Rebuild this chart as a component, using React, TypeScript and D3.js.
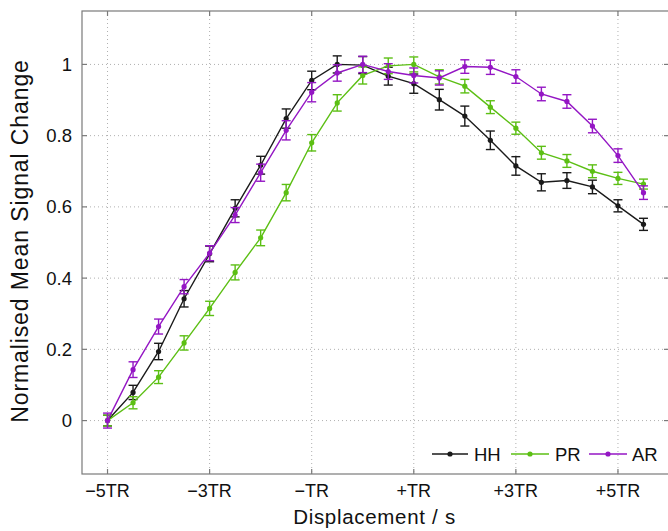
import React from "react";
import * as d3 from "d3";

const displacement = [-5, -4.5, -4, -3.5, -3, -2.5, -2, -1.5, -1, -0.5, 0, 0.5, 1, 1.5, 2, 2.5, 3, 3.5, 4, 4.5, 5, 5.5];
const hhMean = [0, 0.079, 0.194, 0.342, 0.468, 0.596, 0.717, 0.848, 0.955, 1.0, 0.998, 0.967, 0.946, 0.901, 0.855, 0.787, 0.715, 0.669, 0.674, 0.656, 0.603, 0.551];
const hhErr = [0.015, 0.02, 0.023, 0.023, 0.022, 0.024, 0.025, 0.027, 0.026, 0.024, 0.024, 0.025, 0.027, 0.029, 0.028, 0.026, 0.026, 0.024, 0.022, 0.019, 0.017, 0.017];
const prMean = [0, 0.05, 0.122, 0.218, 0.315, 0.416, 0.513, 0.64, 0.78, 0.892, 0.969, 0.996, 1.0, 0.965, 0.939, 0.88, 0.821, 0.752, 0.729, 0.7, 0.68, 0.664];
const prErr = [0.015, 0.017, 0.018, 0.02, 0.02, 0.021, 0.022, 0.023, 0.023, 0.023, 0.024, 0.022, 0.021, 0.02, 0.019, 0.018, 0.017, 0.018, 0.018, 0.018, 0.017, 0.014];
const arMean = [0, 0.143, 0.264, 0.376, 0.47, 0.577, 0.696, 0.815, 0.922, 0.976, 1.0, 0.98, 0.969, 0.962, 0.994, 0.992, 0.966, 0.917, 0.896, 0.827, 0.744, 0.64];
const arErr = [0.021, 0.022, 0.021, 0.02, 0.021, 0.021, 0.024, 0.027, 0.027, 0.023, 0.023, 0.022, 0.021, 0.02, 0.019, 0.02, 0.019, 0.019, 0.019, 0.019, 0.019, 0.019];

const seriesNames = ["HH", "PR", "AR"];
const seriesColors = ["#1a1a1a", "#5cbf14", "#9416c4"];
const xTickValues = [-5, -3, -1, 1, 3, 5];
const xTickLabels = ["\u22125TR", "\u22123TR", "\u2212TR", "+TR", "+3TR", "+5TR"];
const yTickValues = [0, 0.2, 0.4, 0.6, 0.8, 1];
const yTickLabels = ["0", "0.2", "0.4", "0.6", "0.8", "1"];

const W = 668;
const H = 531;
const left = 82;
const right = 669;
const top = 11;
const bottom = 474;
const font = "'Liberation Sans', Arial, Helvetica, sans-serif";

export default function App() {
  const x = d3.scaleLinear().domain([-5.5, 6]).range([left, right]);
  const y = d3.scaleLinear().domain([-0.15, 1.15]).range([bottom, top]);
  const series = [
    { name: seriesNames[0], mean: hhMean, err: hhErr, color: seriesColors[0] },
    { name: seriesNames[1], mean: prMean, err: prErr, color: seriesColors[1] },
    { name: seriesNames[2], mean: arMean, err: arErr, color: seriesColors[2] },
  ];
  const line = d3
    .line<number>()
    .x((_, i) => x(displacement[i]))
    .y((d) => y(d));
  const cap = 4.5;
  const tick = 5;
  const legendItems = [
    { x0: 432, x1: 468, tx: 474 },
    { x0: 511, x1: 549, tx: 555 },
    { x0: 589, x1: 627, tx: 632 },
  ];
  const legendY = 454;

  return (
    <div style={{ position: "absolute", left: 0, top: 0 }}>
      <svg width={W} height={H} style={{ display: "block", background: "#fff" }}>
        <rect x={0} y={0} width={W} height={H} fill="#fff" />
        {/* grid */}
        {xTickValues.map((v) => (
          <line key={"gx" + v} x1={x(v)} x2={x(v)} y1={top} y2={bottom} stroke="#b0b0b0" strokeWidth={1} strokeDasharray="1,3" />
        ))}
        {yTickValues.map((v) => (
          <line key={"gy" + v} x1={left} x2={right} y1={y(v)} y2={y(v)} stroke="#b0b0b0" strokeWidth={1} strokeDasharray="1,3" />
        ))}
        {/* series */}
        {series.map((s) => (
          <g key={s.name}>
            <path d={line(s.mean) || ""} fill="none" stroke={s.color} strokeWidth={1.4} />
            {s.mean.map((m, i) => {
              const cx = x(displacement[i]);
              const y0 = y(m - s.err[i]);
              const y1 = y(m + s.err[i]);
              return (
                <g key={i} stroke={s.color} strokeWidth={1.4}>
                  <line x1={cx} x2={cx} y1={y0} y2={y1} />
                  <line x1={cx - cap} x2={cx + cap} y1={y0} y2={y0} />
                  <line x1={cx - cap} x2={cx + cap} y1={y1} y2={y1} />
                  <circle cx={cx} cy={y(m)} r={2.6} fill={s.color} stroke="none" />
                </g>
              );
            })}
          </g>
        ))}
        {/* axes box */}
        <rect x={left} y={top} width={right - left} height={bottom - top} fill="none" stroke="#7a7a7a" strokeWidth={1.2} />
        {xTickValues.map((v) => (
          <g key={"tx" + v} stroke="#7a7a7a" strokeWidth={1.2}>
            <line x1={x(v)} x2={x(v)} y1={bottom} y2={bottom - tick} />
            <line x1={x(v)} x2={x(v)} y1={top} y2={top + tick} />
          </g>
        ))}
        {yTickValues.map((v) => (
          <g key={"ty" + v} stroke="#7a7a7a" strokeWidth={1.2}>
            <line x1={left} x2={left + tick} y1={y(v)} y2={y(v)} />
            <line x1={right} x2={right - tick} y1={y(v)} y2={y(v)} />
          </g>
        ))}
        {/* tick labels */}
        {xTickValues.map((v, i) => (
          <text key={"lx" + v} x={x(v)} y={497} textAnchor="middle" fontFamily={font} fontSize={18} fill="#111">
            {xTickLabels[i]}
          </text>
        ))}
        {yTickValues.map((v, i) => (
          <text key={"ly" + v} x={72} y={y(v)} dy="0.35em" textAnchor="end" fontFamily={font} fontSize={18.5} fill="#111">
            {yTickLabels[i]}
          </text>
        ))}
        {/* axis titles */}
        <text x={(left + right) / 2 - 1} y={524} textAnchor="middle" fontFamily={font} fontSize={20.5} letterSpacing={0.7} fill="#111">
          Displacement / s
        </text>
        <text
          transform={`translate(28, 241) rotate(-90)`}
          textAnchor="middle"
          fontFamily={font}
          fontSize={23}
          letterSpacing={0.9}
          fill="#111"
        >
          Normalised Mean Signal Change
        </text>
        {/* legend */}
        {series.map((s, i) => {
          const it = legendItems[i];
          return (
            <g key={"lg" + s.name}>
              <line x1={it.x0} x2={it.x1} y1={legendY} y2={legendY} stroke={s.color} strokeWidth={1.4} />
              <circle cx={(it.x0 + it.x1) / 2} cy={legendY} r={2.6} fill={s.color} />
              <text x={it.tx} y={legendY} dy="0.36em" fontFamily={font} fontSize={18.5} fill="#111">
                {s.name}
              </text>
            </g>
          );
        })}
      </svg>
    </div>
  );
}
